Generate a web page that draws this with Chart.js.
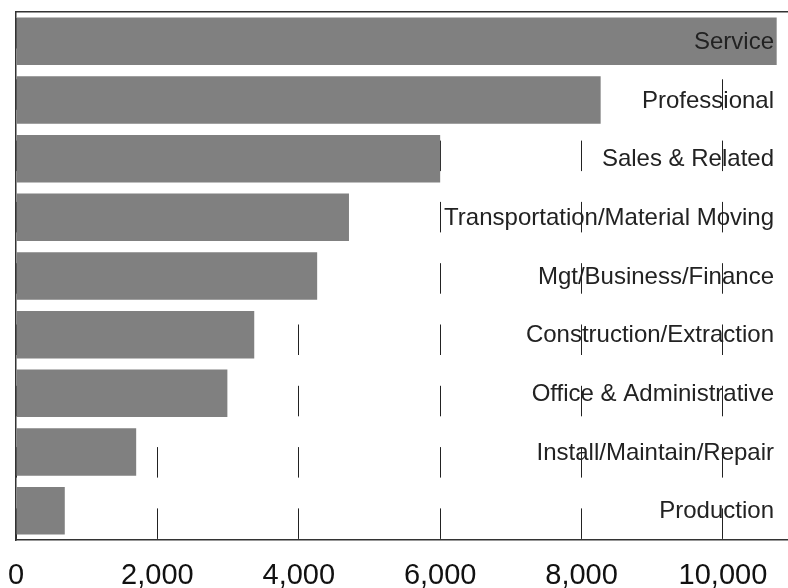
<!DOCTYPE html>
<html>
<head>
<meta charset="utf-8">
<script src="https://cdn.jsdelivr.net/npm/chart.js@4"></script>
<style>
  body { margin: 0; background: #fff; }
  canvas { display: block; }
</style>
</head>
<body>
<canvas id="occChart" width="788" height="588"></canvas>
<script>
// occupations, largest first
const occupations = [
    'Service',
    'Professional',
    'Sales & Related',
    'Transportation/Material Moving',
    'Mgt/Business/Finance',
    'Construction/Extraction',
    'Office & Administrative',
    'Install/Maintain/Repair',
    'Production'
];
const workers = [10760, 8270, 6000, 4710, 4260, 3370, 2990, 1700, 690];
const xTicks = [0, 2000, 4000, 6000, 8000, 10000];
const axisMax = 10920;

const ink = '#222';
const lineColor = '#333';

// category names sit inside the plot, right aligned, on top of the bars
const rowLabels = {
    id: 'rowLabels',
    afterDatasetsDraw(chart) {
        const { ctx, chartArea, scales } = chart;
        ctx.save();
        ctx.font = '24px "Liberation Sans", Arial, sans-serif';
        ctx.fillStyle = ink;
        ctx.textAlign = 'right';
        ctx.textBaseline = 'middle';
        occupations.forEach((name, i) => {
            ctx.fillText(name, chartArea.right - 14, scales.y.getPixelForValue(i) + 1);
        });
        ctx.restore();
    }
};

const ctx = document.getElementById('occChart').getContext('2d');
new Chart(ctx, {
    type: 'bar',
    data: {
        labels: occupations,
        datasets: [{
            data: workers,
            backgroundColor: '#808080',
            borderWidth: 0,
            barPercentage: 0.81,
            categoryPercentage: 1.0
        }]
    },
    options: {
        indexAxis: 'y',
        responsive: false,
        animation: false,
        layout: { padding: { top: 12, left: 16, right: 0, bottom: 0 } },
        plugins: {
            legend: { display: false },
            tooltip: { enabled: false }
        },
        scales: {
            x: {
                position: 'bottom',
                min: 0,
                max: axisMax,
                afterBuildTicks: axis => {
                    axis.ticks = xTicks.map(v => ({ value: v }));
                },
                afterFit: axis => {
                    axis.height = 48;
                    axis.paddingLeft = 0;
                    axis.paddingRight = 0;
                },
                ticks: {
                    maxRotation: 0,
                    autoSkip: false,
                    padding: 21,
                    color: '#111',
                    font: { family: "'Liberation Sans', Arial, sans-serif", size: 29, lineHeight: 1.0 },
                    callback: v => v.toLocaleString('en-US')
                },
                grid: {
                    color: ink,
                    lineWidth: 1,
                    drawTicks: false,
                    borderDash: [30.5, 30.8],
                    borderDashOffset: 55.3
                },
                border: { display: true, color: lineColor, width: 1.5, dash: [30.5, 30.8], dashOffset: 55.3 }
            },
            xTop: {
                position: 'top',
                min: 0,
                max: axisMax,
                afterFit: axis => { axis.height = 0; },
                ticks: { display: false },
                grid: { display: false, drawTicks: false },
                border: { display: true, color: lineColor, width: 1.5 }
            },
            y: {
                position: 'left',
                afterFit: axis => { axis.width = 0; },
                ticks: { display: false },
                grid: { display: false, drawTicks: false },
                border: { display: true, color: lineColor, width: 1.5 }
            }
        }
    },
    plugins: [rowLabels]
});
</script>
</body>
</html>
